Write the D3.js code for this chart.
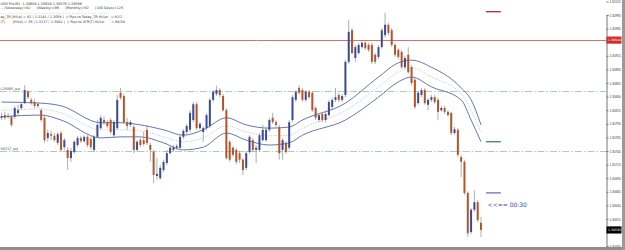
<!DOCTYPE html>
<html>
<head>
<meta charset="utf-8">
<script src="https://cdnjs.cloudflare.com/ajax/libs/d3/7.8.5/d3.min.js"></script>
<style>
  body { margin: 0; background: #fff; overflow: hidden; }
  svg { display: block; font-family: "DejaVu Sans", sans-serif; }
</style>
</head>
<body>
<div id="chart"></div>
<script>
// M1 candles (price)
let opens = [
  1.30801,1.30806,1.30803,1.30803,1.30803,1.30810,1.30819,1.30828,1.30849,1.30834,
  1.30830,1.30823,1.30815,1.30801,1.30764,1.30771,1.30768,1.30755,1.30773,1.30747,
  1.30742,1.30727,1.30738,1.30751,1.30764,1.30758,1.30766,1.30762,1.30742,1.30766,
  1.30782,1.30797,1.30793,1.30797,1.30769,1.30782,1.30847,1.30841,1.30793,1.30788,
  1.30784,1.30742,1.30760,1.30760,1.30779,1.30751,1.30738,1.30694,1.30690,1.30705,
  1.30718,1.30736,1.30742,1.30746,1.30746,1.30766,1.30775,1.30779,1.30797,1.30826,
  1.30782,1.30775,1.30782,1.30786,1.30834,1.30845,1.30852,1.30841,1.30815,1.30757,
  1.30746,1.30742,1.30736,1.30724,1.30709,1.30738,1.30760,1.30742,1.30742,1.30760,
  1.30760,1.30779,1.30801,1.30793,1.30784,1.30742,1.30755,1.30746,1.30797,1.30834,
  1.30856,1.30852,1.30834,1.30849,1.30847,1.30819,1.30797,1.30808,1.30797,1.30806,
  1.30821,1.30834,1.30843,1.30834,1.30843,1.30904,1.30962,1.30911,1.30920,1.30931,
  1.30939,1.30935,1.30935,1.30917,1.30913,1.30931,1.30953,1.30972,1.30962,1.30935,
  1.30926,1.30922,1.30894,1.30917,1.30894,1.30871,1.30828,1.30843,1.30852,1.30825,
  1.30834,1.30839,1.30834,1.30815,1.30819,1.30812,1.30810,1.30773,1.30779,1.30729,
  1.30720,1.30663,1.30591,1.30632,1.30646,1.30608
];
let highs = [
  1.30810,1.30812,1.30810,1.30806,1.30823,1.30825,1.30830,1.30861,1.30852,1.30838,
  1.30836,1.30830,1.30819,1.30804,1.30779,1.30777,1.30773,1.30775,1.30777,1.30764,
  1.30747,1.30746,1.30760,1.30768,1.30768,1.30769,1.30769,1.30766,1.30769,1.30797,
  1.30806,1.30803,1.30797,1.30801,1.30797,1.30843,1.30856,1.30845,1.30801,1.30797,
  1.30788,1.30760,1.30764,1.30775,1.30788,1.30755,1.30742,1.30727,1.30714,1.30724,
  1.30742,1.30749,1.30751,1.30753,1.30769,1.30780,1.30790,1.30815,1.30830,1.30830,
  1.30793,1.30786,1.30810,1.30838,1.30852,1.30860,1.30856,1.30845,1.30819,1.30760,
  1.30749,1.30746,1.30740,1.30727,1.30740,1.30769,1.30764,1.30751,1.30773,1.30788,
  1.30782,1.30801,1.30810,1.30797,1.30788,1.30764,1.30758,1.30797,1.30843,1.30852,
  1.30861,1.30856,1.30852,1.30852,1.30850,1.30823,1.30810,1.30812,1.30812,1.30834,
  1.30838,1.30856,1.30847,1.30845,1.30907,1.30981,1.30966,1.30935,1.30939,1.30942,
  1.30942,1.30939,1.30939,1.30920,1.30935,1.30966,1.30994,1.30975,1.30966,1.30939,
  1.30929,1.30926,1.30915,1.30931,1.30898,1.30874,1.30850,1.30856,1.30856,1.30838,
  1.30843,1.30843,1.30838,1.30823,1.30823,1.30815,1.30812,1.30784,1.30782,1.30733,
  1.30724,1.30666,1.30635,1.30668,1.30650,1.30619
];
let lows = [
  1.30797,1.30797,1.30799,1.30784,1.30799,1.30804,1.30815,1.30826,1.30836,1.30825,
  1.30819,1.30819,1.30793,1.30755,1.30757,1.30760,1.30757,1.30751,1.30738,1.30742,
  1.30705,1.30720,1.30735,1.30747,1.30755,1.30755,1.30747,1.30742,1.30738,1.30764,
  1.30779,1.30788,1.30782,1.30771,1.30766,1.30779,1.30834,1.30790,1.30779,1.30784,
  1.30736,1.30738,1.30747,1.30749,1.30751,1.30720,1.30681,1.30687,1.30687,1.30701,
  1.30714,1.30733,1.30738,1.30742,1.30742,1.30762,1.30771,1.30775,1.30793,1.30779,
  1.30779,1.30757,1.30779,1.30782,1.30830,1.30841,1.30839,1.30812,1.30724,1.30720,
  1.30729,1.30716,1.30718,1.30696,1.30705,1.30735,1.30738,1.30718,1.30738,1.30757,
  1.30757,1.30775,1.30790,1.30784,1.30724,1.30724,1.30735,1.30742,1.30793,1.30830,
  1.30843,1.30830,1.30830,1.30836,1.30812,1.30797,1.30793,1.30793,1.30793,1.30803,
  1.30817,1.30830,1.30830,1.30830,1.30839,1.30900,1.30917,1.30904,1.30917,1.30928,
  1.30926,1.30922,1.30900,1.30900,1.30909,1.30928,1.30949,1.30953,1.30931,1.30913,
  1.30909,1.30891,1.30891,1.30882,1.30861,1.30817,1.30825,1.30839,1.30825,1.30815,
  1.30830,1.30826,1.30797,1.30812,1.30808,1.30803,1.30769,1.30769,1.30729,1.30692,
  1.30659,1.30582,1.30587,1.30628,1.30609,1.30582
];
let closes = [
  1.30804,1.30801,1.30804,1.30788,1.30819,1.30815,1.30826,1.30852,1.30839,1.30828,
  1.30823,1.30826,1.30797,1.30760,1.30773,1.30768,1.30760,1.30771,1.30742,1.30760,
  1.30727,1.30740,1.30757,1.30764,1.30758,1.30766,1.30751,1.30747,1.30766,1.30788,
  1.30801,1.30792,1.30786,1.30775,1.30793,1.30834,1.30838,1.30793,1.30786,1.30793,
  1.30742,1.30757,1.30751,1.30753,1.30755,1.30742,1.30696,1.30698,1.30709,1.30720,
  1.30736,1.30746,1.30747,1.30749,1.30766,1.30777,1.30786,1.30810,1.30826,1.30782,
  1.30790,1.30782,1.30806,1.30834,1.30849,1.30852,1.30843,1.30815,1.30727,1.30724,
  1.30733,1.30720,1.30724,1.30705,1.30736,1.30766,1.30742,1.30746,1.30769,1.30779,
  1.30779,1.30797,1.30793,1.30788,1.30736,1.30760,1.30738,1.30793,1.30839,1.30849,
  1.30847,1.30834,1.30849,1.30839,1.30815,1.30801,1.30806,1.30797,1.30808,1.30830,
  1.30834,1.30839,1.30834,1.30841,1.30904,1.30959,1.30920,1.30931,1.30935,1.30939,
  1.30929,1.30926,1.30904,1.30904,1.30931,1.30962,1.30972,1.30957,1.30935,1.30917,
  1.30913,1.30894,1.30911,1.30885,1.30865,1.30821,1.30847,1.30852,1.30828,1.30834,
  1.30839,1.30830,1.30812,1.30819,1.30812,1.30806,1.30773,1.30780,1.30733,1.30720,
  1.30663,1.30589,1.30632,1.30646,1.30613,1.30595
];

// envelope (upper / middle / lower) read at some bar numbers
let bandBars   = [0, 12, 18, 30, 36, 42, 49, 55, 61, 68, 74, 81, 87, 91, 104, 114, 120, 124, 130, 139, 142, 145];
let bandUpper  = [1.30830,1.30828,1.30823,1.30792,1.30792,1.30788,1.30779,1.30769,1.30779,1.30801,1.30788,
                  1.30782,1.30784,1.30797,1.30828,1.30876,1.30902,1.30907,1.30894,1.30856,1.30834,1.30788];
let bandMiddle = [1.30815,1.30817,1.30810,1.30779,1.30779,1.30777,1.30766,1.30757,1.30764,1.30786,1.30775,
                  1.30768,1.30769,1.30782,1.30814,1.30858,1.30885,1.30893,1.30876,1.30845,1.30815,1.30773];
let bandLower  = [1.30803,1.30806,1.30797,1.30764,1.30766,1.30766,1.30755,1.30742,1.30747,1.30773,1.30760,
                  1.30751,1.30755,1.30769,1.30797,1.30839,1.30867,1.30876,1.30858,1.30834,1.30797,1.30757];

let priceTicks = [1.31015,1.30990,1.30965,1.30940,1.30915,1.30890,1.30865,1.30840,1.30815,1.30790,
                  1.30765,1.30740,1.30715,1.30690,1.30665,1.30640,1.30615,1.30590,1.30565];

let redLevel = 1.30944;
let wdLevels = [1.30850, 1.30740];
let wdNames = ["L25095_wd", "S8717_wd"];
let markLevels = [1.30996, 1.30757, 1.30663];
let markColors = ["#a31c1c", "#2e7d3a", "#6b62b0"];
let lastPrice = 1.30595;
let timerText = "<<== 00:30";

// header lines, only the part that shows on the screen
let infoLines = [
  "USD Pro,M1  1.30608 1.30616 1.30579 1.30596",
  "-- (Yesterday)=82      (Weekly)=96      (Monthly)=92      (180 Days)=125",
  "- - - - - - - - - - - - - - - - - - - - - - - - - - - - - - - - - - - - - - - - - - - - - - -",
  "ay_TR [H/Lo] = 82 | 1.3141 / 1.3058 |  // Pips to Today_TR Hi/Lo:  = 81/2",
  "(T)       [H/Lo] = 76 | 1.3117 / 1.3041 |  // Pips to ATR(T) Hi/Lo:      = 94/34"
];

class CandleChart {

  constructor () {
    let div = d3.select("#chart");
    this.svgWidth = 625;
    this.svgHeight = 250;
    this.plotRight = 606;
    this.plotBottom = 247;

    //add the svg to the div
    this.svg = div.append("svg")
        .attr("width", this.svgWidth)
        .attr("height", this.svgHeight);
  };

  update (bars) {
    let n = bars.length;

    let xScale = d3.scaleLinear()
        .domain([0, n - 1])
        .range([1.5, 481]);
    let yScale = d3.scaleLinear()
        .domain([1.30565, 1.30990])
        .range([246.2, 15]);

    this.svg.selectAll("*").remove();

    this.svg.append("rect")
        .attr("width", this.svgWidth).attr("height", this.svgHeight)
        .attr("fill", "#fff");

    // clip for everything inside the plot
    this.svg.append("clipPath").attr("id", "plotclip")
        .append("rect").attr("x", 0).attr("y", 0)
        .attr("width", this.plotRight).attr("height", this.plotBottom);
    let plot = this.svg.append("g").attr("clip-path", "url(#plotclip)");

    // info text at top left
    plot.selectAll(".info")
        .data(infoLines)
        .enter()
        .append("text")
        .attr("x", 0.5)
        .attr("y", (d, i) => [4.5, 9, 13.5, 18, 22.5][i])
        .style("white-space", "pre")
        .attr("font-size", 3.4)
        .attr("fill", "#333")
        .text(d => d);

    // dash dot levels
    plot.selectAll(".wd")
        .data(wdLevels)
        .enter()
        .append("line")
        .attr("x1", 0).attr("x2", this.plotRight)
        .attr("y1", d => Math.round(yScale(d)) + 0.5)
        .attr("y2", d => Math.round(yScale(d)) + 0.5)
        .attr("stroke", "#b3c9bb")
        .attr("stroke-dasharray", "7,2,1.5,2");
    plot.selectAll(".wdname")
        .data(wdLevels)
        .enter()
        .append("text")
        .attr("x", 0.5)
        .attr("y", d => yScale(d) - 1.5)
        .attr("font-size", 3.4)
        .attr("fill", "#444")
        .text((d, i) => wdNames[i]);

    // red level
    plot.append("line")
        .attr("x1", 0).attr("x2", this.plotRight)
        .attr("y1", Math.round(yScale(redLevel)) + 0.5)
        .attr("y2", Math.round(yScale(redLevel)) + 0.5)
        .attr("stroke", "#dc7070");

    // envelope lines
    let bandData = [bandUpper, bandMiddle, bandLower].map(arr => arr.map((v, k) => ({i: bandBars[k], v: v})));
    let line = d3.line()
        .x(d => xScale(d.i))
        .y(d => yScale(d.v))
        .curve(d3.curveMonotoneX);
    plot.selectAll(".band")
        .data(bandData)
        .enter()
        .append("path")
        .attr("d", d => line(d))
        .attr("fill", "none")
        .attr("stroke", (d, i) => i == 1 ? "#a7aed0" : "#5566a6")
        .attr("stroke-width", (d, i) => i == 1 ? 0.8 : 0.9)
        .attr("stroke-dasharray", (d, i) => i == 1 ? "1,1.5" : null);

    // wicks
    plot.selectAll(".wick")
        .data(bars)
        .enter()
        .append("line")
        .attr("x1", (d, i) => xScale(i)).attr("x2", (d, i) => xScale(i))
        .attr("y1", d => yScale(d.high))
        .attr("y2", d => yScale(d.low))
        .attr("stroke", "#8c8c8c")
        .attr("stroke-width", 0.7);

    // bodies
    plot.selectAll(".body")
        .data(bars)
        .enter()
        .append("rect")
        .attr("x", (d, i) => xScale(i) - 1)
        .attr("y", d => yScale(Math.max(d.open, d.close)))
        .attr("width", 2)
        .attr("height", d => Math.max(0.8, Math.abs(yScale(d.open) - yScale(d.close))))
        .attr("fill", d => d.close > d.open ? "#3b4a99" : (d.close < d.open ? "#b4552c" : "#999"));

    // short marks right of the last bar
    plot.selectAll(".mark")
        .data(markLevels)
        .enter()
        .append("line")
        .attr("x1", xScale(n + 0.5)).attr("x2", xScale(n + 5))
        .attr("y1", d => yScale(d)).attr("y2", d => yScale(d))
        .attr("stroke", (d, i) => markColors[i])
        .attr("stroke-width", 1.2);

    plot.append("text")
        .attr("x", xScale(n + 1))
        .attr("y", yScale(markLevels[2]) + 14)
        .style("white-space", "pre")
        .attr("font-size", 6)
        .attr("fill", "#48489a")
        .text(timerText);

    // price axis
    let yAxis = d3.axisRight(yScale)
        .tickValues(priceTicks)
        .tickSize(2)
        .tickPadding(1)
        .tickFormat(d3.format(".5f"));
    let gAxis = this.svg.append("g")
        .attr("transform", "translate(" + (this.plotRight + 0.5) + ",0)")
        .call(yAxis);
    gAxis.select(".domain").attr("stroke", "#777");
    gAxis.selectAll(".tick line").attr("stroke", "#777");
    gAxis.selectAll(".tick text").attr("font-size", 3.1).attr("fill", "#333");

    // price tags
    let tags = [[redLevel, "#d42a2a"], [lastPrice, "#000"]];
    this.svg.selectAll(".tag")
        .data(tags)
        .enter()
        .append("rect")
        .attr("x", this.plotRight + 0.5)
        .attr("y", d => yScale(d[0]) - 3.5)
        .attr("width", 15).attr("height", 7)
        .attr("fill", d => d[1]);
    this.svg.selectAll(".tagtext")
        .data(tags)
        .enter()
        .append("text")
        .attr("x", this.plotRight + 2)
        .attr("y", d => yScale(d[0]) + 1.2)
        .attr("font-size", 3.2)
        .attr("fill", "#fff")
        .text(d => d3.format(".5f")(d[0]));

    // frame bits
    this.svg.append("rect")
        .attr("x", 622).attr("y", 0).attr("width", 3).attr("height", this.svgHeight)
        .attr("fill", "#9a9a9a");
    this.svg.append("rect")
        .attr("x", 0).attr("y", this.plotBottom).attr("width", 622).attr("height", 3)
        .attr("fill", "#8e8e8e");
  };
};

let bars = opens.map((o, i) => ({open: o, high: highs[i], low: lows[i], close: closes[i]}));
let chart = new CandleChart();
chart.update(bars);
</script>
</body>
</html>
